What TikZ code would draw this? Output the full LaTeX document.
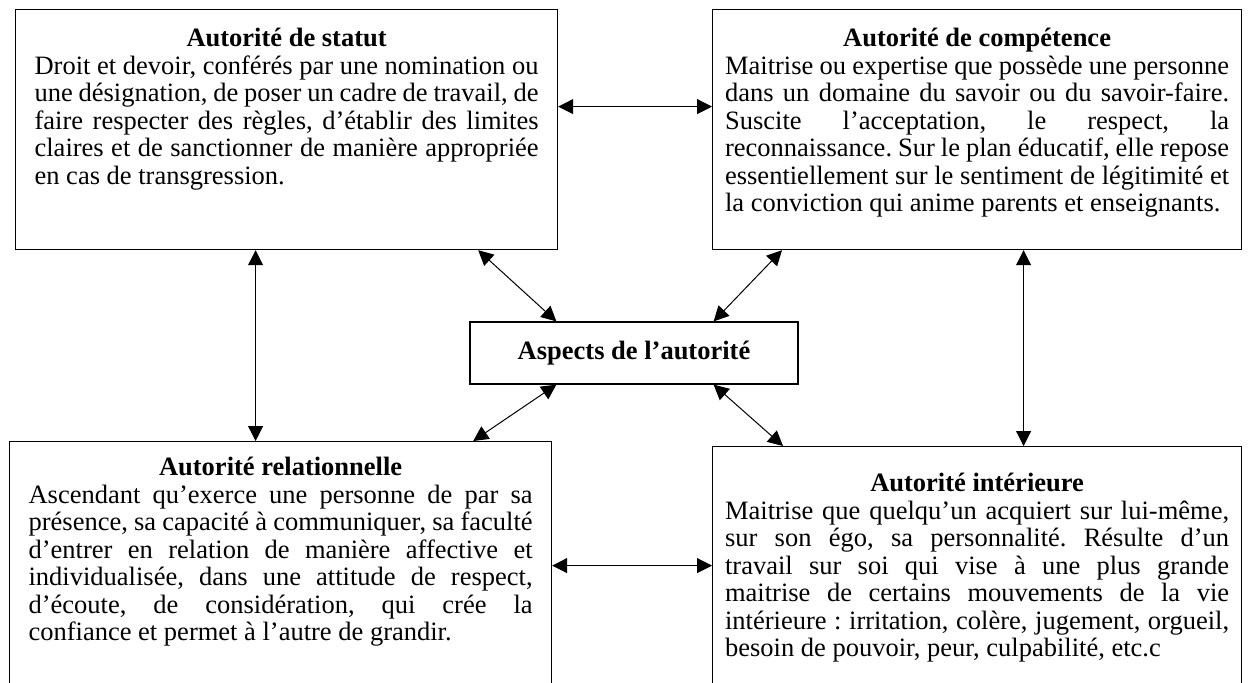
\documentclass[tikz,border=0pt]{standalone}
\usepackage{fontspec}
\setmainfont{Liberation Serif}
\usetikzlibrary{arrows.meta}

% texte d'un cadre : hauteur, ligne du titre, titre, corps
\newcommand{\bloc}[4]{\parbox[c][#1][t]{252pt}{\frenchspacing\hyphenpenalty=10000\exhyphenpenalty=10000\tolerance=9999\hbadness=10000
  \makebox[\linewidth]{\rule{0pt}{#2}\textbf{#3}}\par #4}}

\begin{document}
\begin{tikzpicture}[x=0.5pt,y=-0.5pt,>={Triangle[length=7.5pt,width=7.5pt]}]
        \tikzstyle{cadre}=[draw,line width=0.6pt,anchor=north west,inner sep=0pt,font=\fontsize{13.25}{13.75}\selectfont]
        \tikzstyle{centre}=[draw,line width=0.6pt,minimum width=164pt,minimum height=31pt,font=\fontsize{13.25}{13.75}\selectfont\bfseries]
        \tikzstyle{lien}=[draw,line width=0.5pt,<->]
        \useasboundingbox (0,0) rectangle (1252,682);

        \node [cadre,minimum width=271pt] (statut) at (15,9) {\bloc{120pt}{18.5pt}{Autorité de statut}{Droit et devoir, conférés par une nomination ou\linebreak une désignation, de poser un cadre de travail, de\linebreak faire respecter des règles, d’établir des limites\linebreak claires et de sanctionner de manière appropriée\linebreak en cas de transgression.}};
        \node [cadre,minimum width=264.5pt] (competence) at (712,9) {\bloc{120pt}{18.5pt}{Autorité de compétence}{Maitrise ou expertise que possède une personne\linebreak dans un domaine du savoir ou du savoir-faire.\linebreak Suscite l’acceptation, le respect, la\linebreak reconnaissance. Sur le plan éducatif, elle repose\linebreak essentiellement sur le sentiment de légitimité et\linebreak la conviction qui anime parents et enseignants.}};
        \node [centre] (aspects) at (634,353) {Aspects de l’autorité};
        \node [cadre,minimum width=271pt] (relationnelle) at (9,441) {\bloc{129.5pt}{17pt}{Autorité relationnelle}{Ascendant qu’exerce une personne de par sa\linebreak présence, sa capacité à communiquer, sa faculté\linebreak d’entrer en relation de manière affective et\linebreak individualisée, dans une attitude de respect,\linebreak d’écoute, de considération, qui crée la\linebreak confiance et permet à l’autre de grandir.}};
        \node [cadre,minimum width=264.5pt] (interieure) at (712,446) {\bloc{127pt}{22.5pt}{Autorité intérieure}{Maitrise que quelqu’un acquiert sur lui-même,\linebreak sur son égo, sa personnalité. Résulte d’un\linebreak travail sur soi qui vise à une plus grande\linebreak maitrise de certains mouvements de la vie\linebreak intérieure : irritation, colère, jugement, orgueil,\linebreak besoin de pouvoir, peur, culpabilité, etc.c}};

        \path[lien] ([yshift=11.5pt]statut.east) -- ([yshift=11.5pt]competence.west);
        \path[lien] ([xshift=-15.5pt]statut.south) -- ([xshift=-12.5pt]relationnelle.north);
        \path[lien] ([xshift=23.25pt]competence.south) -- ([xshift=23.25pt]interieure.north);
        \path[lien] ([xshift=-40pt]statut.south east) -- ([xshift=43.5pt]aspects.north west);
        \path[lien] ([xshift=35pt]competence.south west) -- ([xshift=-42.5pt]aspects.north east);
        \path[lien] ([xshift=43.5pt]aspects.south west) -- ([xshift=-39.5pt]relationnelle.north east);
        \path[lien] ([xshift=-42.5pt]aspects.south east) -- ([xshift=35.5pt]interieure.north west);
        \path[lien] ([yshift=2.75pt]relationnelle.east) -- ([yshift=4pt]interieure.west);
\end{tikzpicture}
\end{document}
